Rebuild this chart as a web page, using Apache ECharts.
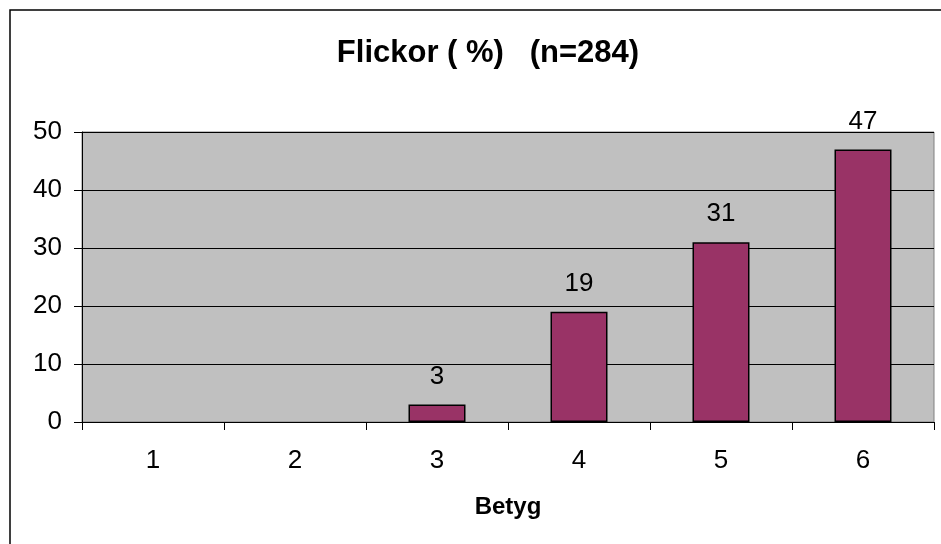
<!DOCTYPE html>
<html><head><meta charset="utf-8">
<script src="https://cdn.jsdelivr.net/npm/echarts@6/dist/echarts.min.js"></script>
<style>html,body{margin:0;padding:0;background:#fff}#c{width:941px;height:544px}</style>
</head><body><div id="c"></div>
<script>
const categories = ['1','2','3','4','5','6'];
const values = [0, 0, 3, 19, 31, 47];
const yTicks = { min: 0, max: 50, interval: 10 };
const titleText = 'Flickor ( %)   (n=284)';
const xName = 'Betyg';

const chart = echarts.init(document.getElementById('c'), null, {renderer:'canvas'});
const font = 'Liberation Sans, Arial, sans-serif';
chart.setOption({
  animation: false,
  backgroundColor: '#fff',
  graphic: [{ type:'rect', shape:{x:10,y:10,width:1000,height:1000}, style:{fill:'none', stroke:'#000', lineWidth:1.5}, z:100 }],
  title: { text: titleText, left: 483, top: 33, textAlign:'center',
    textStyle:{ fontFamily: font, fontWeight:'bold', fontSize: 31, color:'#000' } },
  grid: { left: 82, top: 132, width: 852, height: 290, show: true, backgroundColor: '#C0C0C0', borderColor: '#808080', borderWidth: 1 },
  xAxis: { type:'category', data: categories, boundaryGap: true,
    name: xName, nameLocation: 'middle', nameGap: 73,
    nameTextStyle: { fontFamily: font, fontWeight:'bold', fontSize: 24, color:'#000' },
    axisLine: { lineStyle: { color:'#000', width: 1 } },
    axisTick: { show: true, length: 8, interval: 0, lineStyle:{color:'#000'} },
    axisLabel: { fontFamily: font, fontSize: 26, color:'#000', margin: 26 },
    splitLine: { show: false } },
  yAxis: { type:'value', min: yTicks.min, max: yTicks.max, interval: yTicks.interval,
    axisLine: { show: true, lineStyle: { color:'#000', width: 1 } },
    axisTick: { show: true, length: 8, lineStyle:{color:'#000'} },
    axisLabel: { fontFamily: font, fontSize: 26, color:'#000', margin: 20 },
    splitLine: { show: true, lineStyle: { color:'#000', width: 1 } } },
  series: [{ type:'bar', barWidth: 57,
    data: values.map(v => v > 0 ? v : { value: v, itemStyle: { borderWidth: 0, opacity: 0 } }),
    itemStyle: { color:'#993366', borderColor:'#000', borderWidth: 1.5 },
    label: { show: true, position:'top', distance: 15, fontFamily: font, fontSize: 26, color:'#000',
      formatter: p => p.value > 0 ? String(p.value) : '' } }]
});
</script></body></html>
